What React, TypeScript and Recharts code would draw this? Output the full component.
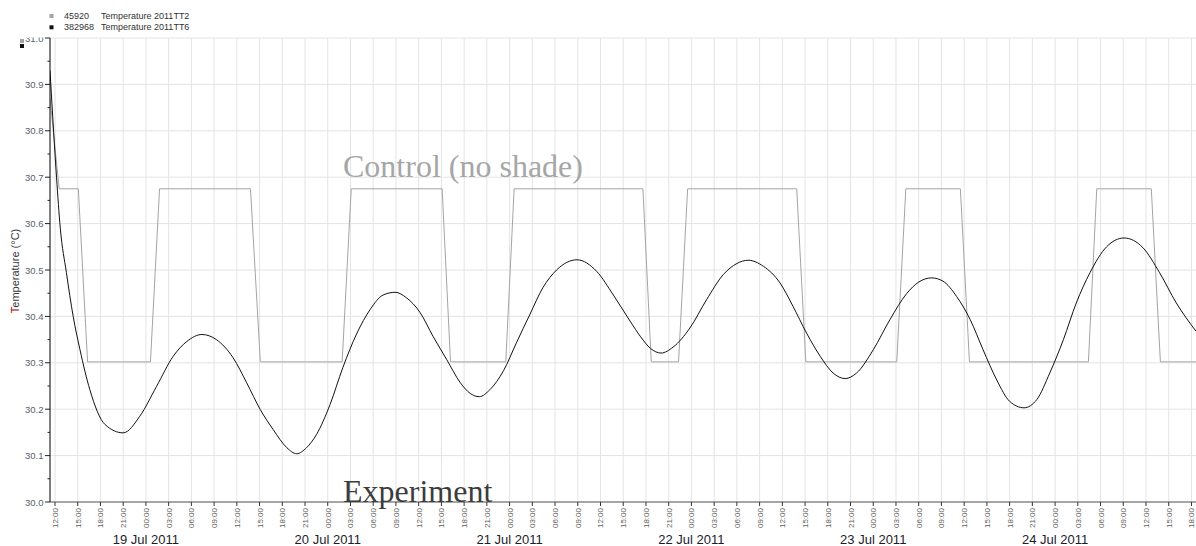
import { LineChart, Line, XAxis, YAxis, CartesianGrid } from 'recharts';

// legend entries: record count + channel name
const SERIES_NAMES = ['Temperature 2011TT2', 'Temperature 2011TT6'];
const SERIES_COUNTS = [45920, 382968];
const SERIES_COLORS = ['#a4a4a4', '#111111'];

// hours since 19 Jul 2011 12:00
const CONTROL_HOURS = [
  -0.66, 0.55, 3.08, 4.3, 12.6, 13.8, 25.8, 27.1, 37.9, 39.1, 51.1, 52.2, 59.5, 60.6,
  77.6, 78.7, 82.3, 83.5, 97.9, 99.1, 111.1, 112.3, 119.5, 120.7, 136.4, 137.5, 144.7, 145.9, 150.6,
];
const CONTROL_TEMP = [
  30.87, 30.675, 30.675, 30.302, 30.302, 30.675, 30.675, 30.302, 30.302, 30.675, 30.675, 30.302, 30.302, 30.675,
  30.675, 30.302, 30.302, 30.675, 30.675, 30.302, 30.302, 30.675, 30.675, 30.302, 30.302, 30.675, 30.675, 30.302, 30.302,
];

const EXPERIMENT_HOURS = [
  -0.66, -0.3, 0.2, 0.7, 1.5, 2.4, 3.3, 4.6, 6.6, 9.0, 11.2, 13.4, 15.6, 17.4, 19.4, 21.3, 23.5, 25.3,
  27.1, 28.8, 30.6, 31.9, 33.2, 34.5, 36.3, 38.0, 39.8, 41.6, 43.3, 44.9, 46.4, 48.2, 49.9, 51.7, 53.5,
  54.8, 56.0, 57.4, 59.2, 60.9, 62.7, 64.4, 66.2, 68.9, 71.5, 73.7, 75.9, 77.3, 78.6, 80.0, 81.6, 83.8, 86.0,
  88.2, 90.0, 91.5, 93.5, 95.7, 97.4, 99.2, 101.0, 102.7, 104.3, 105.8, 108.0, 110.2, 112.4, 114.0,
  115.7, 117.2, 119.0, 120.8, 122.5, 124.3, 126.0, 127.9, 129.6, 131.3, 133.1, 134.8, 136.6, 138.8,
  141.1, 143.6, 145.8, 148.0, 150.6,
];
const EXPERIMENT_TEMP = [
  30.93, 30.83, 30.7, 30.59, 30.495, 30.4, 30.328, 30.242, 30.167, 30.149, 30.185, 30.249, 30.314, 30.346, 30.361, 30.35, 30.311, 30.257,
  30.199, 30.156, 30.117, 30.104, 30.117, 30.145, 30.21, 30.29, 30.362, 30.415, 30.446, 30.452, 30.44, 30.408, 30.357, 30.307, 30.257,
  30.234, 30.227, 30.242, 30.283, 30.343, 30.405, 30.462, 30.5, 30.522, 30.497, 30.446, 30.39, 30.356, 30.331, 30.321, 30.334, 30.375, 30.436,
  30.49, 30.514, 30.521, 30.508, 30.472, 30.422, 30.364, 30.314, 30.278, 30.266, 30.278, 30.328, 30.393, 30.449, 30.474,
  30.483, 30.476, 30.443, 30.393, 30.328, 30.263, 30.217, 30.203, 30.221, 30.278, 30.35, 30.429, 30.494, 30.55,
  30.569, 30.548, 30.494, 30.429, 30.368,
];

const TIME_LABELS = ['00:00', '03:00', '06:00', '09:00', '12:00', '15:00', '18:00', '21:00'];
const DAY_LABELS = ['19 Jul 2011', '20 Jul 2011', '21 Jul 2011', '22 Jul 2011', '23 Jul 2011', '24 Jul 2011'];

const controlData = CONTROL_HOURS.map((h, i) => ({ h, t: CONTROL_TEMP[i] }));
const experimentData = EXPERIMENT_HOURS.map((h, i) => ({ h, t: EXPERIMENT_TEMP[i] }));

const X_TICKS = Array.from({ length: 51 }, (_, i) => i * 3);
const Y_TICKS = Array.from({ length: 21 }, (_, i) => +(30 + i * 0.05).toFixed(2));
const Y_GRID = Array.from({ length: 11 }, (_, i) => +(30 + i * 0.1).toFixed(1));

const SANS = '"Liberation Sans", Arial, sans-serif';
const SERIF = '"Liberation Serif", "Times New Roman", serif';

function TimeTick(props: any) {
  const { x, y, payload } = props;
  const clock = (payload.value + 12) % 24;
  const label = TIME_LABELS[clock / 3];
  const day = clock === 0 ? DAY_LABELS[(payload.value + 12) / 24 - 1] : null;
  return (
    <g>
      <line x1={x} y1={y} x2={x} y2={y + 4} stroke="#333" />
      <text
        x={x + 3}
        y={y + 6}
        transform={`rotate(-90, ${x + 3}, ${y + 6})`}
        textAnchor="end"
        fontSize={8}
        fontFamily={SANS}
        fill="#635d56"
      >
        {label}
      </text>
      {day && (
        <text x={x} y={y + 42} textAnchor="middle" fontSize={13} fontFamily={SANS} fill="#1c1c2a">
          {day}
        </text>
      )}
    </g>
  );
}

function TempTick(props: any) {
  const { x, y, index, payload } = props;
  const major = index % 2 === 0;
  if (!major) return <line x1={x - 2.5} y1={y} x2={x} y2={y} stroke="#222" />;
  return (
    <g>
      <defs>
        <clipPath id="ytick-clip">
          <rect x={0} y={37.5} width={50} height={500} />
        </clipPath>
      </defs>
      <line x1={x - 5} y1={y} x2={x} y2={y} stroke="#222" />
      <text
        x={x - 6.5}
        y={y + 3.5}
        textAnchor="end"
        fontSize={9.5}
        fontFamily={SANS}
        fill="#56606e"
        clipPath="url(#ytick-clip)"
      >
        {payload.value.toFixed(1)}
      </text>
    </g>
  );
}

export default function App() {
  return (
    <div style={{ position: 'relative', width: 1196, height: 546, background: '#fff' }}>
      <style>{'body{margin:0}'}</style>
      <LineChart width={1196} height={546} margin={{ top: 38, right: 0, bottom: 0, left: 0 }}>
        <CartesianGrid stroke="#e4e4e4" horizontalValues={Y_GRID} verticalValues={X_TICKS} />
        <XAxis
          type="number"
          dataKey="h"
          domain={[-0.66, 150.6]}
          allowDataOverflow
          ticks={X_TICKS}
          interval={0}
          height={44}
          tickSize={0}
          tickMargin={0}
          tickLine={false}
          stroke="#5a5a5a"
          tick={<TimeTick />}
        />
        <YAxis
          type="number"
          dataKey="t"
          domain={[30, 31]}
          ticks={Y_TICKS}
          interval={0}
          width={50}
          tickSize={0}
          tickMargin={0}
          tickLine={false}
          stroke="#000"
          tick={<TempTick />}
        />
        <Line
          data={controlData}
          dataKey="t"
          type="linear"
          stroke={SERIES_COLORS[0]}
          strokeWidth={1}
          dot={false}
          activeDot={false}
          isAnimationActive={false}
        />
        <Line
          data={experimentData}
          dataKey="t"
          type="monotone"
          stroke={SERIES_COLORS[1]}
          strokeWidth={1}
          dot={false}
          activeDot={false}
          isAnimationActive={false}
        />
      </LineChart>
      <svg
        width={1196}
        height={546}
        style={{ position: 'absolute', left: 0, top: 0, pointerEvents: 'none' }}
      >
        {SERIES_NAMES.map((name, i) => (
          <g key={name}>
            <rect x={49.5} y={14 + i * 11.3} width={4} height={4} fill={SERIES_COLORS[i]} />
            <text x={64} y={19 + i * 11.3} fontSize={9} fontFamily={SANS} fill="#333">
              {SERIES_COUNTS[i]}
            </text>
            <text x={101} y={19 + i * 11.3} fontSize={9} fontFamily={SANS} fill="#333">
              {name}
            </text>
            <rect x={20} y={39 + i * 5} width={4} height={4} fill={SERIES_COLORS[i]} />
          </g>
        ))}
        <text
          x={19}
          y={271}
          transform="rotate(-90, 19, 271)"
          textAnchor="middle"
          fontSize={11}
          fontFamily={SANS}
          fill="#3a3a3a"
        >
          <tspan fill="#a00000">T</tspan>emperature (°C)
        </text>
        <text x={343} y={177} fontSize={32} fontFamily={SERIF} fill="#a6a6a6">
          Control (no shade)
        </text>
        <text x={343} y={502} fontSize={32} fontFamily={SERIF} fill="#3c3c3c">
          Experiment
        </text>
      </svg>
    </div>
  );
}
